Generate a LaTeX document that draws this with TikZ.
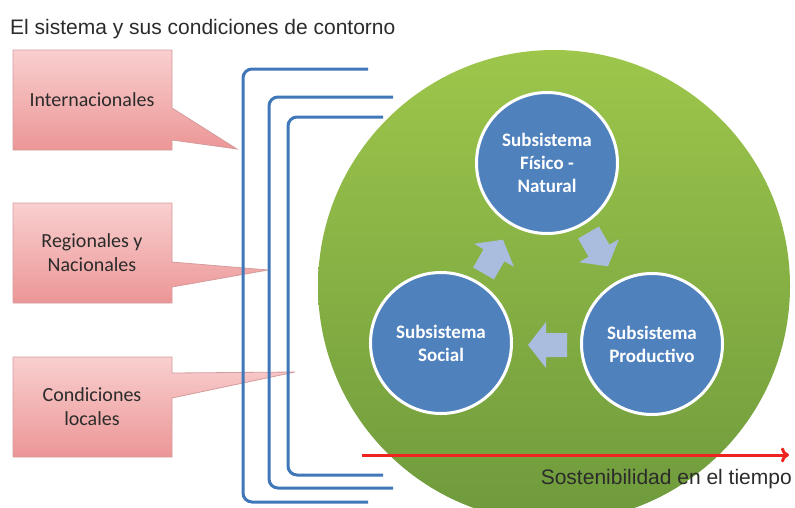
\documentclass[tikz,border=0pt]{standalone}
\usepackage{fontspec}
\setmainfont{Carlito}
\newfontfamily\arialf{Liberation Sans}
\usetikzlibrary{arrows.meta}
\definecolor{pinktop}{HTML}{F9CFCF}
\definecolor{pinkbot}{HTML}{EC9696}
\definecolor{pinkedge}{HTML}{D49C9C}
\definecolor{brk}{HTML}{3F77B8}
\definecolor{greentop}{HTML}{9DC64B}
\definecolor{greenbot}{HTML}{6E9A3C}
\definecolor{subblue}{HTML}{4F81BD}
\definecolor{arrblue}{HTML}{AABDDF}
\definecolor{txtgray}{HTML}{2B2B2B}
\definecolor{redline}{HTML}{EE2420}
\tikzset{
  callout/.style={top color=pinktop,bottom color=pinkbot,draw=pinkedge,line width=0.8pt},
  calltext/.style={font=\fontsize{20}{24}\selectfont,text=txtgray,align=center},
  bracket/.style={draw=brk,line width=3pt,rounded corners=9pt},
  subsys/.style={circle,fill=subblue,draw=white,line width=3pt,minimum size=141pt,inner sep=0pt,
     text=white,font=\fontsize{19}{23}\selectfont\bfseries,align=center},
  cycarrow/.style={fill=arrblue,draw=none},
  lbl/.style={font=\arialf\fontsize{21}{24}\selectfont,text=txtgray,inner sep=0pt}
}
\begin{document}
\begin{tikzpicture}[x=1pt,y=-1pt]
\useasboundingbox (0,0) rectangle (795,507);
% title
\node[lbl,anchor=west] (title) at (10,29) {El sistema y sus condiciones de contorno};
% callouts
\path[callout] (13,50)--(172,50)--(172,108)--(237,149)--(172,140)--(172,150)--(13,150)--cycle;
\path[callout] (13,203)--(172,203)--(172,262)--(268,270)--(172,287)--(172,303)--(13,303)--cycle;
\path[callout] (13,357)--(172,357)--(172,373)--(295,372)--(172,398)--(172,457)--(13,457)--cycle;
\node[calltext] (intl) at (92,100) {Internacionales};
\node[calltext] (regn) at (92,253) {Regionales y\\Nacionales};
\node[calltext] (locl) at (92,407) {Condiciones\\locales};
% brackets
\draw[bracket] (368,69) -- (243,69) -- (243,502) -- (368,502);
\draw[bracket] (393,97) -- (269,97) -- (269,488) -- (393,488);
\draw[bracket] (383,117) -- (288,117) -- (288,475) -- (383,475);
% green system circle
\path[top color=greentop,bottom color=greenbot] (554,286) circle (236);
\node[circle,minimum size=472pt,inner sep=0pt] (sys) at (554,286) {};
% subsystems
\node[subsys] (fis) at (547,163) {Subsistema\\Físico -\\Natural};
\node[subsys] (soc) at (441,343) {Subsistema\\Social};
\node[subsys] (prod) at (652,344) {Subsistema\\Productivo};
% cycle arrows
\foreach \cx/\cy/\ang in {493/257/60, 598/249/-60, 548/345/180}{
  \begin{scope}[shift={(\cx,\cy)},rotate=\ang]
    \path[cycarrow] (-19,-12)--(2,-12)--(2,-23)--(20,0)--(2,23)--(2,12)--(-19,12)--cycle;
  \end{scope}
}
% time arrow
\coordinate (t0) at (362,455);
\coordinate (t1) at (789,455);
\draw[redline,line width=3pt,-{To[length=8pt,width=15pt]}] (t0) -- (t1);
\node[lbl,anchor=east] (sost) at (792,479) {Sostenibilidad en el tiempo};
\end{tikzpicture}
\end{document}
